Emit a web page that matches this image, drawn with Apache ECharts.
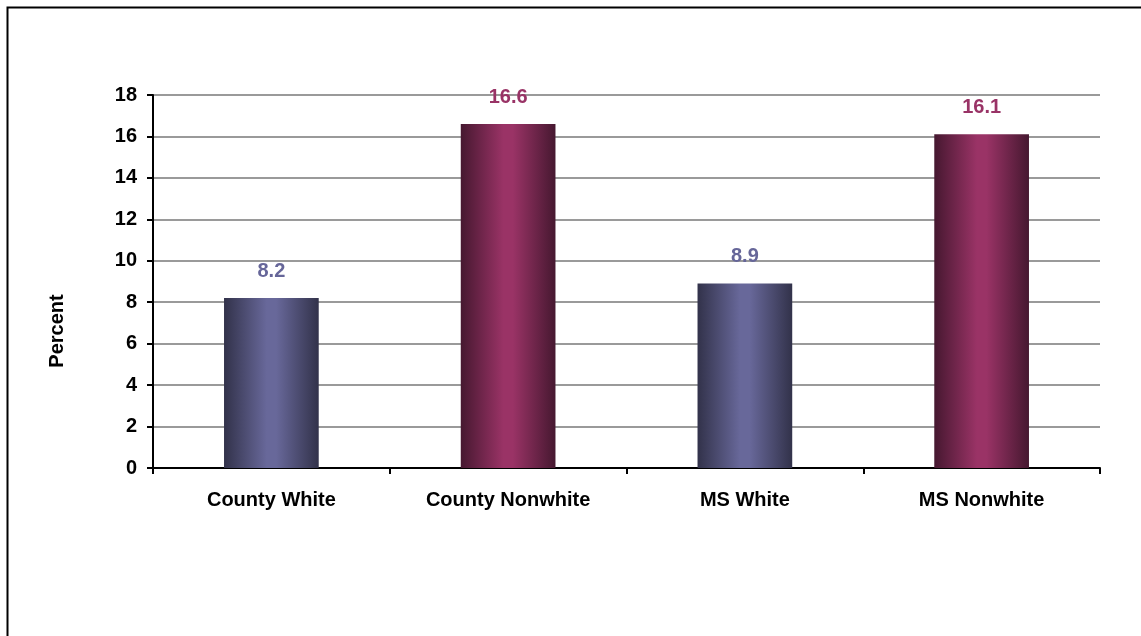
<!DOCTYPE html>
<html><head><meta charset="utf-8">
<script src="https://cdn.jsdelivr.net/npm/echarts@6/dist/echarts.min.js"></script>
<style>html,body{margin:0;padding:0;background:#fff}#c{width:1141px;height:636px}</style>
</head><body><div id="c"></div>
<script>
const categories = ['County White', 'County Nonwhite', 'MS White', 'MS Nonwhite'];
const values = [8.2, 16.6, 8.9, 16.1];
const yTicks = [0, 2, 4, 6, 8, 10, 12, 14, 16, 18];
const axisName = 'Percent';

const font = '"Liberation Sans", Arial, sans-serif';
function grad(edge, mid) {
  return new echarts.graphic.LinearGradient(0, 0, 1, 0, [
    {offset: 0, color: edge},
    {offset: 0.45, color: mid},
    {offset: 0.55, color: mid},
    {offset: 1, color: edge}
  ]);
}
const styles = [
  {fill: grad('#32324a', '#68689a'), label: '#666699'},
  {fill: grad('#461830', '#9a3366'), label: '#993366'}
];
const data = values.map((v, i) => {
  const s = styles[i % 2];
  return {value: v, itemStyle: {color: s.fill}, label: {color: s.label}};
});

const chart = echarts.init(document.getElementById('c'), null, {renderer: 'canvas'});
chart.setOption({
  animation: false,
  backgroundColor: '#fff',
  grid: {left: 153, right: 41, top: 95, bottom: 168, containLabel: false},
  graphic: [
    {type: 'rect', shape: {x: 7.5, y: 7.5, width: 1160, height: 660}, style: {fill: 'none', stroke: '#000', lineWidth: 2}, z: 100},
    {type: 'text', x: 57, y: 331, rotation: Math.PI / 2, style: {text: axisName, font: 'bold 20px ' + font, fill: '#000', textAlign: 'center', textVerticalAlign: 'middle'}}
  ],
  xAxis: {
    type: 'category', data: categories,
    axisLine: {lineStyle: {color: '#000', width: 2}},
    axisTick: {show: true, length: 6, lineStyle: {color: '#000', width: 2}, alignWithLabel: false},
    axisLabel: {color: '#000', fontFamily: font, fontWeight: 'bold', fontSize: 20, margin: 22}
  },
  yAxis: {
    type: 'value', min: yTicks[0], max: yTicks[yTicks.length - 1], interval: 2,
    axisLine: {show: true, lineStyle: {color: '#000', width: 2}},
    axisTick: {show: true, length: 6, lineStyle: {color: '#000', width: 2}},
    axisLabel: {color: '#000', fontFamily: font, fontWeight: 'bold', fontSize: 20, margin: 16},
    splitLine: {show: true, lineStyle: {color: '#9a9a9a', width: 2}}
  },
  series: [{
    type: 'bar', data: data, barWidth: '40%',
    label: {show: true, position: 'top', distance: 17, fontFamily: font, fontWeight: 'bold', fontSize: 20,
      formatter: p => p.value.toFixed(1)}
  }]
});
</script></body></html>
